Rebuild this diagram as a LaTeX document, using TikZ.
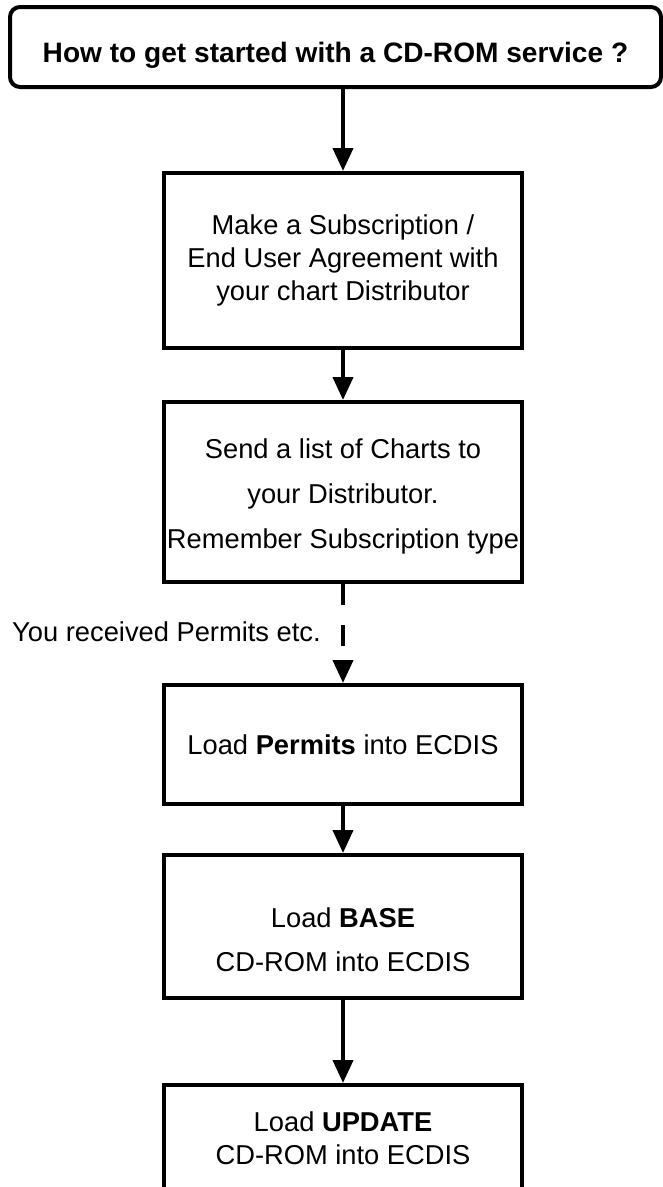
\documentclass[tikz,border=0pt]{standalone}
\usepackage{fontspec}
\setmainfont{Liberation Sans}
\usetikzlibrary{arrows.meta}
\begin{document}
\begin{tikzpicture}[x=1pt,y=-1pt,
  box/.style={draw, line width=4pt, minimum width=358pt, align=center,
    font=\fontsize{27.3}{33}\selectfont, inner sep=0pt},
  txt/.style={align=center, inner sep=0pt},
  titlebox/.style={draw, line width=4pt, rounded corners=10pt, minimum width=651pt,
    minimum height=80pt, font=\fontsize{28.1}{33}\selectfont\bfseries, inner sep=0pt,
    text height=30pt, text depth=0pt},
  flow/.style={line width=4pt, -{Triangle[width=20pt,length=23pt]}},
  lbl/.style={font=\fontsize{27.3}{33}\selectfont, inner sep=0pt, anchor=west},
]
\useasboundingbox (0,0) rectangle (663,1187);
\node[titlebox] (title) at (335.5,47) {How to get started with a CD-ROM service ?};
\node[box, minimum height=175pt] (b1) at (343,260.5) {Make a Subscription /\\End User Agreement with\\your chart Distributor};
\node[box, minimum height=180pt] (b2) at (343,492) {};
\node[txt, font=\fontsize{27.3}{45}\selectfont] (t2) at (343,496) {Send a list of Charts to\\your Distributor.\\Remember Subscription type};
\node[box, minimum height=119pt] (b3) at (343,744.5) {Load \textbf{Permits} into ECDIS};
\node[box, minimum height=143pt] (b4) at (343,926.5) {};
\node[txt, font=\fontsize{27.3}{44}\selectfont] (t4) at (343,940) {Load \textbf{BASE}\\CD-ROM into ECDIS};
\node[box, minimum height=106pt] (b5) at (343,1138) {Load \textbf{UPDATE}\\CD-ROM into ECDIS};
\node[lbl] (recv) at (12,632) {You received Permits etc.};
\draw[flow] (title.south -| b1.north) -- (b1.north);
\draw[flow] (b1.south) -- (b2.north);
\draw[flow, dash pattern=on 21pt off 20pt] (b2.south) -- (b3.north);
\draw[flow] (b3.south) -- (b4.north);
\draw[flow] (b4.south) -- (b5.north);
\end{tikzpicture}
\end{document}
